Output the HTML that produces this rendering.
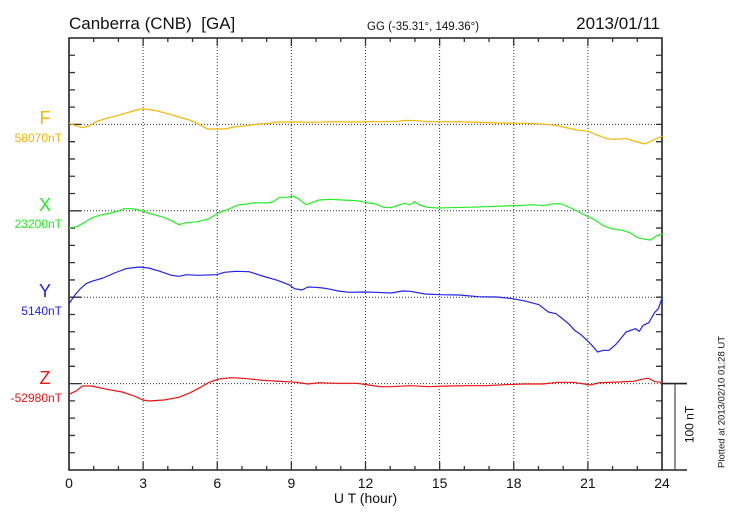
<!DOCTYPE html>
<html><head><meta charset="utf-8"><style>
html,body{margin:0;padding:0;background:#fff;}
svg{display:block;font-family:"Liberation Sans",Arial,sans-serif;}
</style></head><body>
<svg width="730" height="520" viewBox="0 0 730 520" xmlns="http://www.w3.org/2000/svg">
<rect width="730" height="520" fill="#fff"/>
<!-- titles -->
<text x="69" y="29" font-size="17" fill="#111" xml:space="preserve">Canberra (CNB)  [GA]</text>
<text x="367" y="30" font-size="11.5" fill="#111">GG (-35.31°, 149.36°)</text>
<text x="660" y="29" font-size="17" fill="#111" text-anchor="end">2013/01/11</text>

<!-- grid -->
<g stroke="#333" stroke-width="1" stroke-dasharray="1 2" fill="none">
<path d="M143.13 38V470M217.25 38V470M291.38 38V470M365.5 38V470M439.63 38V470M513.75 38V470M587.88 38V470"/>
<path d="M69 124.4H662M69 210.8H662M69 297.2H662M69 383.6H662"/>
</g>

<!-- axes frame -->
<g stroke="#222" stroke-width="1.6" fill="none">
<path d="M69 38H662V470H69Z"/>
<path d="M662 470H687M662 383.6H687"/>
</g>
<path d="M675 383.6V470" stroke="#555" stroke-width="1.3"/>
<!-- ticks -->
<g stroke="#333" stroke-width="1.3" fill="none">
<path d="M69 55.28h6M69 72.56h6M69 89.84h6M69 107.12h6M69 124.4h12M69 141.68h6M69 158.96h6M69 176.24h6M69 193.52h6M69 210.8h12M69 228.08h6M69 245.36h6M69 262.64h6M69 279.92h6M69 297.2h12M69 314.48h6M69 331.76h6M69 349.04h6M69 366.32h6M69 383.6h12M69 400.88h6M69 418.16h6M69 435.44h6M69 452.72h6"/>
<path d="M662 55.28h-6M662 72.56h-6M662 89.84h-6M662 107.12h-6M662 124.4h-6M662 141.68h-6M662 158.96h-6M662 176.24h-6M662 193.52h-6M662 210.8h-6M662 228.08h-6M662 245.36h-6M662 262.64h-6M662 279.92h-6M662 297.2h-6M662 314.48h-6M662 331.76h-6M662 349.04h-6M662 366.32h-6M662 400.88h-6M662 418.16h-6M662 435.44h-6M662 452.72h-6"/>
<path d="M93.71 470v-4M118.42 470v-4M143.13 470v-8M167.83 470v-4M192.54 470v-4M217.25 470v-8M241.96 470v-4M266.67 470v-4M291.38 470v-8M316.08 470v-4M340.79 470v-4M365.5 470v-8M390.21 470v-4M414.92 470v-4M439.63 470v-8M464.33 470v-4M489.04 470v-4M513.75 470v-8M538.46 470v-4M563.17 470v-4M587.88 470v-8M612.58 470v-4M637.29 470v-4"/>
<path d="M93.71 38v4M118.42 38v4M143.13 38v8M167.83 38v4M192.54 38v4M217.25 38v8M241.96 38v4M266.67 38v4M291.38 38v8M316.08 38v4M340.79 38v4M365.5 38v8M390.21 38v4M414.92 38v4M439.63 38v8M464.33 38v4M489.04 38v4M513.75 38v8M538.46 38v4M563.17 38v4M587.88 38v8M612.58 38v4M637.29 38v4"/>
</g>

<!-- x tick labels -->
<g font-size="14" fill="#111" text-anchor="middle">
<text x="69" y="488">0</text>
<text x="143.13" y="488">3</text>
<text x="217.25" y="488">6</text>
<text x="291.38" y="488">9</text>
<text x="365.5" y="488">12</text>
<text x="439.63" y="488">15</text>
<text x="513.75" y="488">18</text>
<text x="587.88" y="488">21</text>
<text x="662" y="488">24</text>
<text x="365.5" y="503">U T (hour)</text>
</g>

<!-- component labels -->
<g text-anchor="middle" font-size="18">
<text x="45" y="124" fill="#f7b500">F</text>
<text x="45" y="211" fill="#22ee22">X</text>
<text x="45" y="297" fill="#2222ee">Y</text>
<text x="45" y="384" fill="#ee1111">Z</text>
</g>
<g text-anchor="end" font-size="12">
<text x="62" y="142" fill="#f7b500">58070nT</text>
<text x="62" y="228" fill="#22ee22">23200nT</text>
<text x="62" y="315" fill="#2222ee">5140nT</text>
<text x="62" y="402" fill="#ee1111">-52980nT</text>
</g>

<!-- rotated labels -->
<text transform="translate(693.5,424.5) rotate(-90)" font-size="12" fill="#111" text-anchor="middle">100 nT</text>
<text transform="translate(724.5,468) rotate(-90)" font-size="9.5" fill="#111">Plotted at 2013/02/10 01:28 UT</text>

<!-- curves -->
<g fill="none" stroke-width="1.2" stroke-linejoin="round">
<g transform="translate(69,98) scale(0.37896,0.33333)">
<polyline vector-effect="non-scaling-stroke" stroke="#f7b500" points="0,76 15,82 35,89 50,85 70,72 95,62 130,52 160,42 185,34 200,33 230,38 260,47 290,57 320,67 345,80 365,93 410,93 440,86 470,83 500,78 530,76 545,72 600,72 640,73 700,71 740,72 800,71 860,71 890,67 920,68 940,71 1000,71 1050,72 1130,75 1200,76 1230,77 1270,80 1300,86 1340,96 1370,100 1395,112 1420,122 1440,124 1470,122 1500,132 1520,138 1540,127 1566,114"/>
</g>
<g transform="translate(69,190) scale(0.37896,0.33333)">
<polyline vector-effect="non-scaling-stroke" stroke="#22ee22" points="0,114 20,110 40,98 60,84 80,76 110,69 130,63 145,56 165,56 185,60 200,66 220,73 250,82 270,92 290,104 310,98 340,95 370,86 395,68 420,58 445,45 470,42 490,38 520,39 540,35 555,22 575,22 590,18 605,26 625,44 640,38 660,30 690,28 720,30 760,32 790,39 810,42 830,52 850,53 865,47 885,40 900,44 912,35 925,45 945,52 975,54 1000,53 1050,52 1100,50 1150,48 1200,46 1220,44 1250,47 1280,41 1300,42 1330,57 1360,75 1385,88 1410,107 1435,117 1460,121 1480,128 1500,143 1520,148 1535,150 1550,138 1566,132"/>
</g>
<g transform="translate(69,262) scale(0.37896,0.33333)">
<polyline vector-effect="non-scaling-stroke" stroke="#2222ee" points="0,125 15,100 30,80 45,65 60,58 90,48 120,33 150,20 185,15 210,18 240,28 270,40 290,43 310,38 340,40 390,38 410,31 440,28 475,29 510,42 550,55 580,68 595,80 615,84 630,75 650,76 670,78 690,82 710,87 740,91 780,90 810,91 850,93 880,87 900,88 940,96 980,98 1030,99 1080,104 1130,105 1170,110 1200,116 1240,128 1265,150 1285,155 1300,168 1320,187 1335,206 1350,217 1365,233 1380,250 1395,270 1410,265 1425,265 1445,245 1470,210 1495,200 1505,208 1515,190 1530,182 1545,152 1555,140 1566,105"/>
</g>
<g transform="translate(69,370) scale(0.37896,0.33333)">
<polyline vector-effect="non-scaling-stroke" stroke="#ee1111" points="0,73 20,62 35,48 60,48 100,58 140,66 170,77 195,90 210,93 250,90 290,82 320,68 350,50 370,37 395,27 430,23 470,26 510,31 540,33 600,37 630,42 660,38 700,40 760,40 790,45 820,50 850,50 900,47 950,50 1000,48 1050,47 1100,47 1150,44 1200,42 1250,42 1290,37 1330,37 1360,42 1375,45 1400,38 1450,36 1490,34 1510,28 1530,25 1545,35 1566,37"/>
</g>
</g>
</svg>
</body></html>
